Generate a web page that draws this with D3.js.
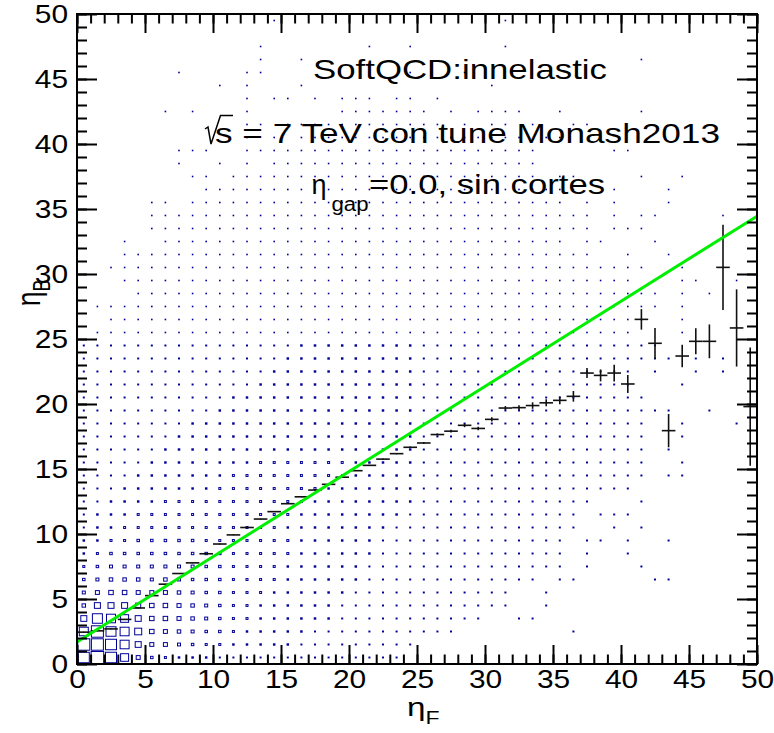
<!DOCTYPE html>
<html>
<head>
<meta charset="utf-8">
<script src="https://cdn.jsdelivr.net/npm/d3@7"></script>
<style>
  body { margin: 0; background: #fff; }
  svg { display: block; }
  text { font-family: "Liberation Sans", Arial, Helvetica, sans-serif; fill: #000; }
</style>
</head>
<body>
<svg id="chart" width="774" height="733"></svg>
<script>
// ---- axis setup -------------------------------------------------------
const xDomain = [0, 50];          // eta_F
const yDomain = [0, 50];          // eta_B
const nBinsX = 50, nBinsY = 50;
const xTickValues = [0, 5, 10, 15, 20, 25, 30, 35, 40, 45, 50];
const yTickValues = [0, 5, 10, 15, 20, 25, 30, 35, 40, 45, 50];

// ---- 2D histogram (BOX), one string per eta_B bin, top row = bin 49 ----
// each character is the content class of one eta_F bin ('.' = empty)
const levelChars  = "123456789abcdefghi";
const levelCounts = [14, 22, 34, 49, 66, 87, 109, 135, 164, 195, 265, 346, 438, 541, 654, 779, 914, 1000];
const histRows = [
  ".......... ....1..... .......... .1........ ..........", // 49
  ".......... .......... .......... .......... ..........", // 48
  ".......... ...1...... .1..1..... .1........ ..........", // 47
  ".......... ...1..1... .......... .......... .1........", // 46
  ".......1.. ..11...... ....1...1. .......... ..........", // 45
  ".......... 1.1...1... .......... 1......... ..........", // 44
  ".......... ..1.11.1.1 11.11.1... .......... ..........", // 43
  "......1.1. ..1......1 111111.1.1 111..1.... .1........", // 42
  ".......... ..11.11111 1111111.1. 11.1..11.. ..........", // 41
  ".......... ..1.1.1111 1111111111 111.11..1. ..........", // 40
  ".......111 ..11111111 1111111111 1111.....1 1.........", // 39
  ".......1.. 1.1.111111 1111111111 1111...... ..........", // 38
  "........11 .111111111 1111111111 1111.11... .1..1.....", // 37
  ".........1 1111111111 1111111111 1111111..1 ...1......", // 36
  ".....11.11 1111111111 1111111111 111111.1.1 ...1......", // 35
  ".....11111 1111111111 1111111111 11111111.1 .11....1..", // 34
  ".....11111 1111111111 1111111111 11111111.1 11........", // 33
  "...1..1111 1111111111 1111111111 111111.11. ..1.......", // 32
  "...1111111 1111111111 1111111111 11111111.. 1..1.1....", // 31
  "..11111111 1111111111 1111111111 1111111111 11..1.....", // 30
  "...1111111 1111111111 1111111111 1111111111 1...11..1.", // 29
  "....111111 1111111111 1111111111 1111111111 111.1.1...", // 28
  ".111111111 1111111111 1111111111 1111111111 111.1.....", // 27
  "..11111111 1111111111 1111111111 1111111111 11..1.....", // 26
  ".111111111 1111111111 1111111111 1111111111 1...1.....", // 25
  "2222222222 2222223333 3333322222 2222222222 222.......", // 24
  "2222222222 2222233333 3333322222 2222222222 2222.2.2..", // 23
  "2222222222 2222333333 3333322222 2222222222 2.2..2.2..", // 22
  "2222222222 2223333333 3333322222 2222222222 2...2.....", // 21
  "2222222222 2333333333 3333322222 2222222222 22........", // 20
  "2222222222 3333333333 3333322222 2222222222 2222..2...", // 19
  "2222222233 3333333333 3333322222 2222222222 22..2...2.", // 18
  "2222222333 3333333333 3333322222 2222222222 22..2.....", // 17
  "2222223333 3333333333 3333322222 2222222222 22.2......", // 16
  "2222233333 3334444444 3333322222 2222222222 22..2.....", // 15
  "2222333333 3444444443 3333322222 2222222222 22.22.....", // 14
  "2223333333 4444444433 3333322222 2222222222 2.........", // 13
  "2233334444 4444444333 3333322222 22222222.. .2........", // 12
  "2333444444 4444443333 3333222222 2222222.22 2.........", // 11
  "2334444444 4444433333 3332222222 2222222..2 .2........", // 10
  "3344555554 4444443333 3322222222 222222.22. 2..2......", // 9
  "3455555555 5444443333 3322222222 222222.2.. 2.........", // 8
  "4566666665 5444433333 3222222222 222222.2.. .2........", // 7
  "5677767655 5444433333 3222222222 2222.22... ..22......", // 6
  "6899888765 5444333333 2222222222 22..2..... ..........", // 5
  "7bbba99876 5443333332 2222222222 22..2..... ..........", // 4
  "bfedb99876 5443333332 2222222222 ..22...... ..........", // 3
  "ehfec98765 5433333222 22222222.. ......2... ..........", // 2
  "hhgeb88654 4333332222 22222..... .......... ..........", // 1
  "gigd854333 2222222222 2222...... .......... .........."  // 0
];

// ---- profile of <eta_B> per eta_F bin ---------------------------------
const profMean = [
  2.45, 2.55, 2.70, 3.43, 4.31, 5.26, 6.14, 6.96, 7.78, 8.48,
  9.23, 9.93, 10.50, 11.15, 11.72, 12.33, 12.86, 13.38, 13.82, 14.37,
  14.87, 15.28, 15.76, 16.18, 16.67, 17.00, 17.65, 17.91, 18.36, 18.12,
  18.82, 19.69, 19.72, 19.88, 20.09, 20.28, 20.59, 22.38, 22.20, 22.38,
  21.54, 26.51, 24.67, 17.95, 23.69, 24.82, 24.82, 30.51, 25.85, 19.80
];
const profErr = [
  0.03, 0.03, 0.03, 0.03, 0.03, 0.03, 0.03, 0.03, 0.03, 0.03,
  0.03, 0.03, 0.03, 0.03, 0.03, 0.03, 0.03, 0.03, 0.03, 0.03,
  0.03, 0.04, 0.04, 0.05, 0.06, 0.07, 0.09, 0.10, 0.14, 0.13,
  0.17, 0.15, 0.18, 0.25, 0.27, 0.30, 0.41, 0.38, 0.46, 0.64,
  0.69, 0.79, 1.18, 1.28, 0.87, 1.00, 1.30, 3.27, 2.97, 4.55
];

// ---- linear fit: eta_B = p0 + p1 * eta_F --------------------------------
const fitParams = [1.70, 0.655];

// ---- text -----------------------------------------------------------------
const infoLines = ["SoftQCD:innelastic", "s = 7 TeV con tune Monash2013", "=0.0, sin cortes"];

// ---------------------------------------------------------------------------
const svg = d3.select("#chart");
const x = d3.scaleLinear().domain(xDomain).range([77, 757]);
const y = d3.scaleLinear().domain(yDomain).range([664, 14]);
const stretch = 1.28;           // horizontal glyph stretch of titles
const tickStretch = 1.15;       // horizontal glyph stretch of tick labels
const boxColor = "#000099";

// cells of the 2D histogram
const cells = [];
histRows.forEach((row, r) => {
  const j = nBinsY - 1 - r;
  const s = row.replace(/ /g, "");
  for (let i = 0; i < nBinsX; i++) {
    const ch = s[i];
    if (ch === "." || ch === undefined) continue;
    cells.push({ i, j, count: levelCounts[levelChars.indexOf(ch)] });
  }
});
const cmax = d3.max(cells, d => d.count);
const frac = d3.scaleSqrt().domain([0, cmax]).range([0, 1]);
const binW = (x.domain()[1] - x.domain()[0]) / nBinsX;
const binH = (y.domain()[1] - y.domain()[0]) / nBinsY;

const gBox = svg.append("g");
cells.forEach(d => {
  const cx = x(d.i * binW + binW / 2), cy = y(d.j * binH + binH / 2);
  const w = Math.abs(x(binW) - x(0)) * frac(d.count);
  const h = Math.abs(y(0) - y(binH)) * frac(d.count);
  if (w < 3) {
    const s = Math.max(w, 1.6), t = Math.max(h, 1.6);
    gBox.append("rect").attr("x", cx - s / 2).attr("y", cy - t / 2)
      .attr("width", s).attr("height", t).attr("fill", boxColor);
  } else {
    gBox.append("rect").attr("x", cx - w / 2 + 0.5).attr("y", cy - h / 2 + 0.5)
      .attr("width", w - 1).attr("height", h - 1)
      .attr("fill", "none").attr("stroke", boxColor).attr("stroke-width", 1);
  }
});

// profile points with error bars
const gProf = svg.append("g").attr("stroke", "#111").attr("stroke-width", 1.6);
profMean.forEach((m, i) => {
  const x0 = x(i * binW), x1 = x((i + 1) * binW), xc = x((i + 0.5) * binW);
  gProf.append("line").attr("x1", x0).attr("x2", x1).attr("y1", y(m)).attr("y2", y(m));
  gProf.append("line").attr("x1", xc).attr("x2", xc)
    .attr("y1", y(m - profErr[i])).attr("y2", y(m + profErr[i]));
});

// fitted line
const fitX = [xDomain[0], xDomain[1]];
svg.append("path")
  .attr("d", d3.line().x(v => x(v)).y(v => y(fitParams[0] + fitParams[1] * v))(fitX))
  .attr("fill", "none").attr("stroke", "#00ee00").attr("stroke-width", 3);

// frame
svg.append("rect").attr("x", x(0)).attr("y", y(50))
  .attr("width", x(50) - x(0)).attr("height", y(0) - y(50))
  .attr("fill", "none").attr("stroke", "#000").attr("stroke-width", 2);

// axes: major + minor ticks on all four sides, pointing inward
const majorX = 19, minorX = 9.5, majorY = 20, minorY = 10;
const minorVals = d3.range(0, 51, 1);
function styleAxis(g) {
  g.select(".domain").remove();
  g.selectAll("line").attr("stroke", "#000").attr("stroke-width", 2);
}
svg.append("g").attr("transform", `translate(0,${y(0)})`)
  .call(d3.axisBottom(x).tickValues(minorVals).tickSizeInner(-minorX).tickSizeOuter(0).tickFormat(""))
  .call(styleAxis);
const gxb = svg.append("g").attr("transform", `translate(0,${y(0)})`)
  .call(d3.axisBottom(x).tickValues(xTickValues).tickSizeInner(-majorX).tickSizeOuter(0)
    .tickPadding(6).tickFormat(d3.format("d")))
  .call(styleAxis);
gxb.selectAll("text").attr("font-size", 26).attr("font-family", null)
  .attr("transform", `scale(${tickStretch},1)`);
svg.append("g").attr("transform", `translate(0,${y(50)})`)
  .call(d3.axisTop(x).tickValues(minorVals).tickSizeInner(-minorX).tickSizeOuter(0).tickFormat(""))
  .call(styleAxis);
svg.append("g").attr("transform", `translate(0,${y(50)})`)
  .call(d3.axisTop(x).tickValues(xTickValues).tickSizeInner(-majorX).tickSizeOuter(0).tickFormat(""))
  .call(styleAxis);
svg.append("g").attr("transform", `translate(${x(0)},0)`)
  .call(d3.axisLeft(y).tickValues(minorVals).tickSizeInner(-minorY).tickSizeOuter(0).tickFormat(""))
  .call(styleAxis);
const gyl = svg.append("g").attr("transform", `translate(${x(0)},0)`)
  .call(d3.axisLeft(y).tickValues(yTickValues).tickSizeInner(-majorY).tickSizeOuter(0)
    .tickPadding(9).tickFormat(d3.format("d")))
  .call(styleAxis);
gyl.selectAll("text").attr("font-size", 26).attr("font-family", null)
  .attr("x", -9 / tickStretch).attr("transform", `scale(${tickStretch},1)`);
svg.append("g").attr("transform", `translate(${x(50)},0)`)
  .call(d3.axisRight(y).tickValues(minorVals).tickSizeInner(-minorY).tickSizeOuter(0).tickFormat(""))
  .call(styleAxis);
svg.append("g").attr("transform", `translate(${x(50)},0)`)
  .call(d3.axisRight(y).tickValues(yTickValues).tickSizeInner(-majorY).tickSizeOuter(0).tickFormat(""))
  .call(styleAxis);

// axis titles
const xt = svg.append("text").attr("transform", `translate(407,716) scale(${stretch},1)`)
  .attr("font-size", 26);
xt.append("tspan").text("η");
xt.append("tspan").attr("font-size", 18).attr("dy", 8).text("F");

const yt = svg.append("text").attr("transform", `translate(40,306) scale(${stretch},1) rotate(-90)`)
  .attr("font-size", 26);
yt.append("tspan").text("η");
yt.append("tspan").attr("font-size", 18).attr("dy", 8).text("B");

// info text block
svg.append("text").attr("x", 313).attr("y", 79).attr("font-size", 28)
  .attr("textLength", 294).attr("lengthAdjust", "spacingAndGlyphs").text(infoLines[0]);

svg.append("path").attr("d", "M205,129 L208,127 L211,144 L220.5,115.5 L233,115.5")
  .attr("fill", "none").attr("stroke", "#000").attr("stroke-width", 1.5);
svg.append("text").attr("x", 215).attr("y", 143).attr("font-size", 28)
  .attr("textLength", 505).attr("lengthAdjust", "spacingAndGlyphs").text(infoLines[1]);

svg.append("text").attr("x", 311.5).attr("y", 194).attr("font-size", 28)
  .attr("textLength", 15).attr("lengthAdjust", "spacingAndGlyphs").text("η");
svg.append("text").attr("x", 331.5).attr("y", 211).attr("font-size", 20)
  .attr("textLength", 37).attr("lengthAdjust", "spacingAndGlyphs").text("gap");
svg.append("text").attr("x", 369).attr("y", 194).attr("font-size", 28)
  .attr("textLength", 236).attr("lengthAdjust", "spacingAndGlyphs").text(infoLines[2]);
</script>
</body>
</html>
